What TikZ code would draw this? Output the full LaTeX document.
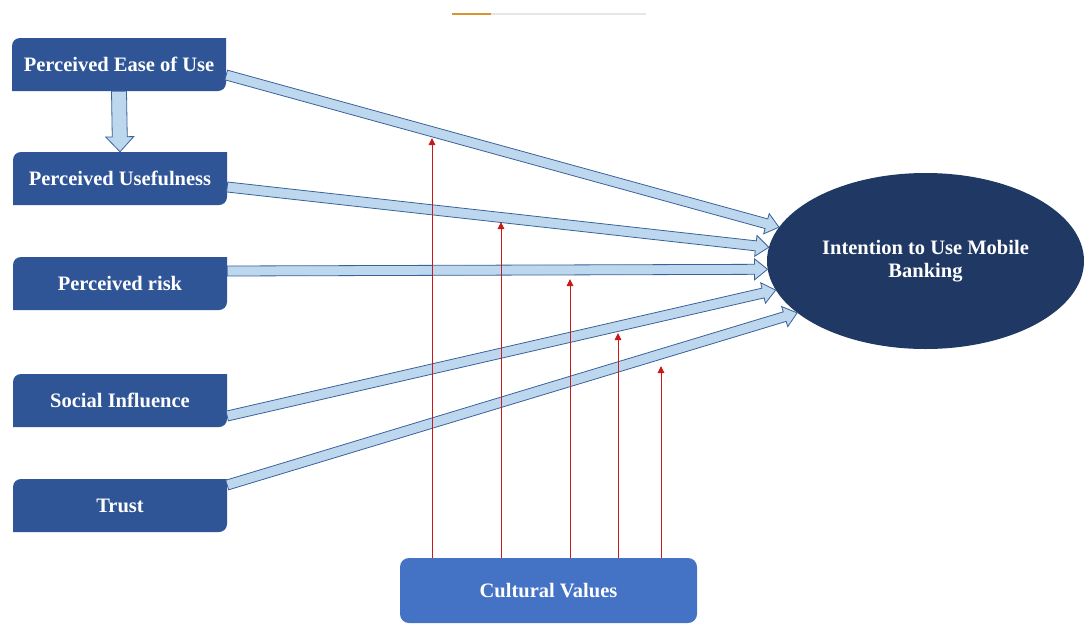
\documentclass[tikz,border=0pt]{standalone}
\usepackage{fontspec}
\setmainfont{Liberation Serif}
\usepackage{tikz}
\usetikzlibrary{arrows.meta, positioning, calc, shapes.geometric}
\definecolor{boxblue}{HTML}{2F5597}
\definecolor{ovalnavy}{HTML}{203864}
\definecolor{cvblue}{HTML}{4472C4}
\definecolor{arrfill}{HTML}{BDD7EE}
\definecolor{arredge}{HTML}{3A6298}
\definecolor{modred}{HTML}{C81818}
\definecolor{barorange}{HTML}{D9942F}
\definecolor{bargray}{HTML}{E6E6E6}
\tikzset{
	factor/.style={minimum width=214pt, minimum height=53pt, inner sep=0pt,
		text=white, font=\bfseries\fontsize{20.5}{25}\selectfont,
		path picture={\fill[boxblue] (path picture bounding box.north)
			-- (path picture bounding box.north east) -- (path picture bounding box.east)
			[rounded corners=8pt] -- (path picture bounding box.south east)
			-- (path picture bounding box.south) [sharp corners]
			-- (path picture bounding box.south west) -- (path picture bounding box.west)
			[rounded corners=8pt] -- (path picture bounding box.north west) -- cycle;}},
	outcome/.style={ellipse, fill=ovalnavy, minimum width=317pt, minimum height=176pt,
		inner sep=0pt, text=white, align=center, font=\bfseries\fontsize{20.5}{25}\selectfont},
	moderator/.style={fill=cvblue, rounded corners=9pt, minimum width=297pt,
		minimum height=65pt, text=white, font=\bfseries\fontsize{20.5}{25}\selectfont},
	% block arrow: shaft half width, head half width, head length
	blockarr/.style n args={3}{draw=arredge, fill=arrfill, line width=0.8pt,
		to path={($(\tikztostart)!#1!90:(\tikztotarget)$)
			-- ($(\tikztotarget)!#3!(\tikztostart)!#1!90:(\tikztotarget)$)
			-- ($(\tikztotarget)!#3!(\tikztostart)!#2!90:(\tikztotarget)$)
			-- (\tikztotarget)
			-- ($(\tikztotarget)!#3!(\tikztostart)!#2!-90:(\tikztotarget)$)
			-- ($(\tikztotarget)!#3!(\tikztostart)!#1!-90:(\tikztotarget)$)
			-- ($(\tikztostart)!#1!-90:(\tikztotarget)$) -- cycle}},
	modarr/.style={-{Triangle[length=7pt, width=6.5pt]}, line width=1pt, modred},
}

\begin{document}
\begin{tikzpicture}[x=1pt, y=-1pt]
	\useasboundingbox (0,0) rectangle (1086,624);
	\draw[line width=1.3pt, bargray] (491,14) -- (646,14);
	\draw[line width=1.3pt, barorange] (452,14) -- (491,14);

	\node[factor] (peou) at (119,64.5) {Perceived Ease of Use};
	\node[factor] (pu) at (120,178.5) {Perceived Usefulness};
	\node[factor] (pr) at (120,283.5) {Perceived risk};
	\node[factor] (si) at (120,400.5) {Social Influence};
	\node[factor] (tr) at (120,505.5) {Trust};
	\node[outcome] (intent) at (925.5,261) {\raisebox{-2pt}{Intention to Use Mobile}\\Banking};
	\node[moderator] (cv) at (548.5,590.5) {Cultural Values};

	\draw[blockarr={7.5pt}{14pt}{15pt}] (peou.south) to (pu.north);

	\coordinate (s1) at ($(peou.east)+(0,10.5)$);
	\coordinate (s2) at ($(pu.east)+(0,8.5)$);
	\coordinate (s3) at ($(pr.east)+(0,-12.5)$);
	\coordinate (s4) at ($(si.east)+(0,15.5)$);
	\coordinate (s5) at ($(tr.east)+(0,-20.5)$);
	\draw[blockarr={5pt}{10.5pt}{13pt}] (s1) to (intent.167);
	\draw[blockarr={5pt}{10.5pt}{13pt}] (s2) to (intent.175);
	\draw[blockarr={5pt}{10.5pt}{13pt}] (s3) to (intent.183);
	\draw[blockarr={5pt}{10.5pt}{13pt}] (s4) to (intent.191);
	\draw[blockarr={5pt}{10.5pt}{13pt}] (s5) to (intent.202);

	% cultural values acting on each path
	\coordinate (m1) at (432,138);
	\coordinate (m2) at (501,222);
	\coordinate (m3) at (570,279);
	\coordinate (m4) at (618,333);
	\coordinate (m5) at (661,366);
	\foreach \m in {m1,m2,m3,m4,m5}
		\draw[modarr] (cv.north -| \m) -- (\m);
\end{tikzpicture}
\end{document}
